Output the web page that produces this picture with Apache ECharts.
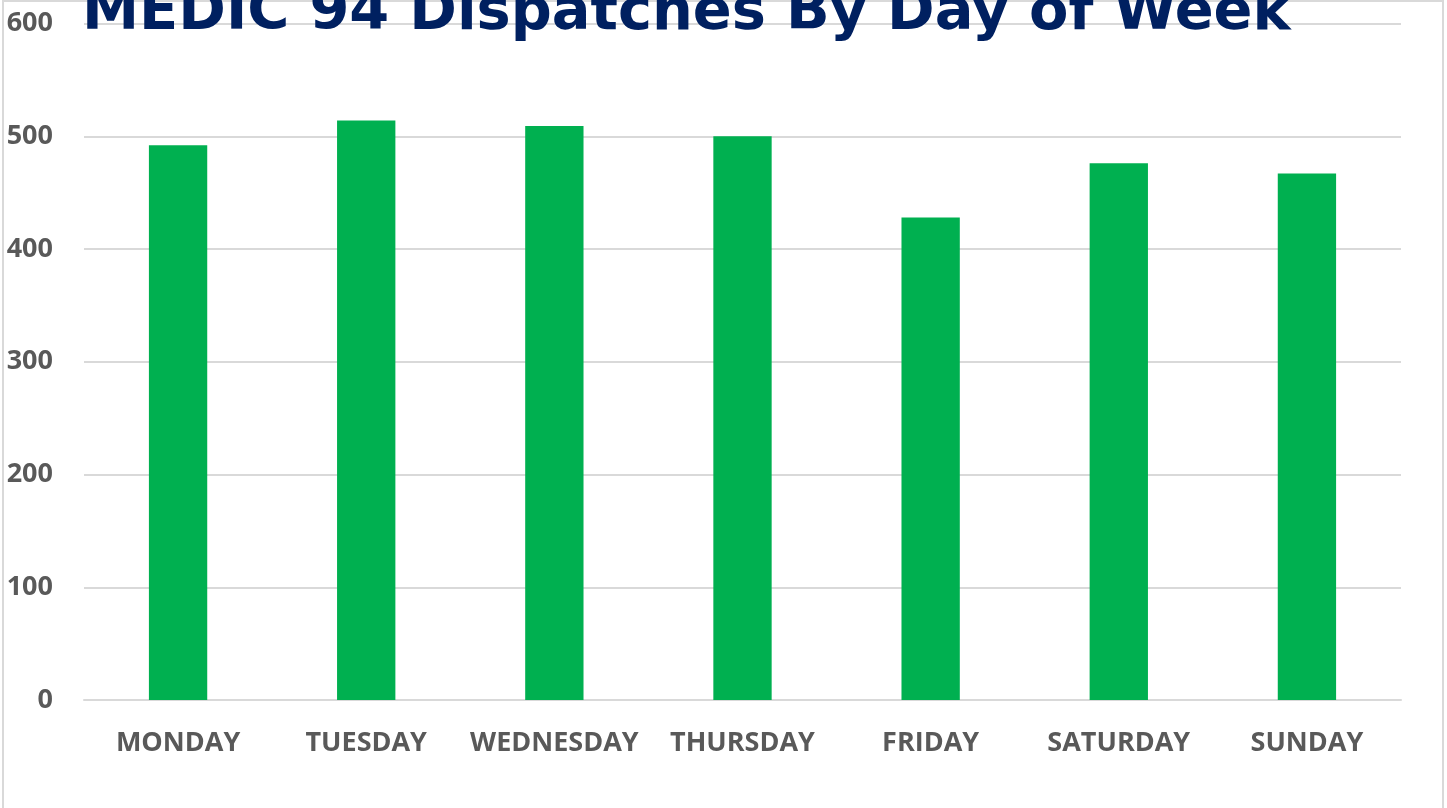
<!DOCTYPE html>
<html>
<head>
<meta charset="utf-8">
<script src="https://cdn.jsdelivr.net/npm/echarts@6/dist/echarts.min.js"></script>
<style>
  html, body { margin: 0; padding: 0; background: #fff; }
  #chart { width: 1447px; height: 808px; }
</style>
</head>
<body>
<div id="chart"></div>
<script>
// data
const days = ['MONDAY', 'TUESDAY', 'WEDNESDAY', 'THURSDAY', 'FRIDAY', 'SATURDAY', 'SUNDAY'];
const dispatches = [492, 514, 509, 500, 428, 476, 467];

const chart = echarts.init(document.getElementById('chart'));
const labelFont = {
  color: '#595959',
  fontFamily: 'Open Sans',
  fontWeight: 'bold',
  fontSize: 27
};

chart.setOption({
  animation: false,
  title: {
    text: 'MEDIC 94 Dispatches By Day of Week',
    left: 82,
    top: -14,
    padding: 0,
    textStyle: {
      color: '#002060',
      fontFamily: 'DejaVu Sans',
      fontWeight: 'bold',
      fontSize: 57.4,
      lineHeight: 57
    }
  },
  // outer chart frame (bottom edge falls outside the picture)
  graphic: [{
    type: 'rect',
    shape: { x: 3, y: 1, width: 1440, height: 830 },
    style: { fill: 'none', stroke: '#d9d9d9', lineWidth: 2 },
    silent: true
  }],
  grid: {
    left: 84,
    right: 46,
    top: 23.5,
    bottom: 108
  },
  xAxis: {
    type: 'category',
    data: days,
    axisTick: { show: false },
    axisLine: { lineStyle: { color: '#d9d9d9', width: 2 } },
    axisLabel: Object.assign({ margin: 30, interval: 0 }, labelFont)
  },
  yAxis: {
    type: 'value',
    min: 0,
    max: 600,
    interval: 100,
    axisLine: { show: false },
    axisTick: { show: false },
    splitLine: { lineStyle: { color: '#d9d9d9', width: 2 } },
    axisLabel: Object.assign({ margin: 31 }, labelFont)
  },
  series: [{
    type: 'bar',
    data: dispatches,
    barWidth: '31%',
    itemStyle: { color: '#00b050' }
  }]
});
</script>
</body>
</html>
